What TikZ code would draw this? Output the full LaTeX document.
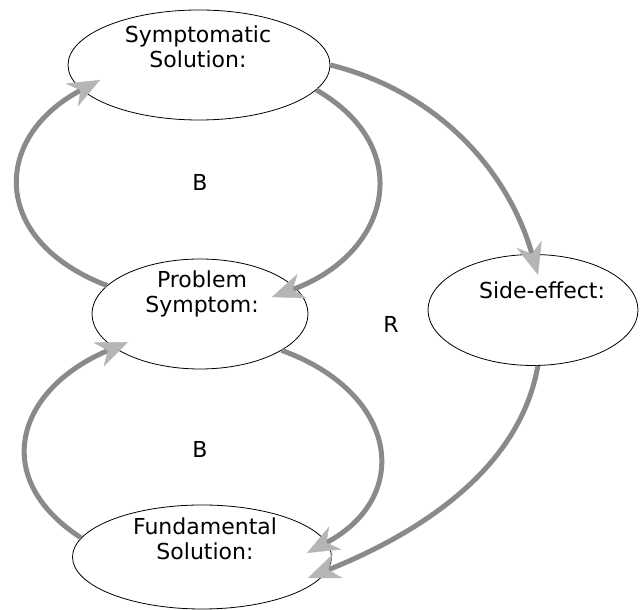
\documentclass[tikz,border=0pt]{standalone}
\usepackage{fontspec}
\setmainfont{DejaVu Sans}
\usetikzlibrary{shapes.geometric,arrows.meta}
\definecolor{flowgray}{HTML}{8A8A8A}
\definecolor{tipgray}{HTML}{B5B5B5}
\begin{document}
\begin{tikzpicture}[x=1pt,y=1pt,
    var/.style={ellipse,draw,line width=0.8pt,fill=white,inner sep=0pt},
    txt/.style={align=center,inner sep=0pt,font=\fontsize{22}{25}\selectfont},
    flow/.style={draw=flowgray,line width=5pt,-{Stealth[length=32pt,width=26pt,inset=10pt,line width=0.4pt,color=tipgray]}}]
    \useasboundingbox (0,0) rectangle (641,610);
    % the four variables
    \node[var,minimum width=262pt,minimum height=110pt] (sympsol) at (199,545) {};
    \node[var,minimum width=216pt,minimum height=110pt] (prob) at (200,296) {};
    \node[var,minimum width=210pt,minimum height=111pt] (side) at (533,300) {};
    \node[var,minimum width=259pt,minimum height=104pt] (fund) at (202,53) {};
    \node[txt] (sympsoltxt) at (198,563) {Symptomatic\\Solution:};
    \node[txt] (probtxt) at (202,316) {Problem\\Symptom:};
    \node[txt] (sidetxt) at (542,320) {Side-effect:};
    \node[txt] (fundtxt) at (205,71) {Fundamental\\Solution:};
    % loop labels
    \node[txt] (upperb) at (200,428) {B};
    \node[txt] (lowerb) at (200,161) {B};
    \node[txt] (outerr) at (391,286) {R};
    % links
    \draw[flow] (sympsol.-12) to[out=-30,in=20,out distance=117pt,in distance=125pt] ([shift={(72,17)}]prob.center);
    \draw[flow] (prob.163) to[out=159,in=208,out distance=125pt,in distance=123pt] ([shift={(-99,-15)}]sympsol.center);
    \draw[flow] (prob.-24) to[out=-20,in=28,out distance=124pt,in distance=120pt] ([shift={(105,4)}]fund.center);
    \draw[flow] (fund.171) to[out=147,in=203,out distance=110pt,in distance=121pt] ([shift={(-72,-28)}]prob.center);
    \draw[flow] (sympsol.east) to[out=-14,in=106,looseness=0.95] ([shift={(5,35)}]side.center);
    \draw[flow] (side.-85) to[out=-100,in=22,looseness=0.9] ([shift={(106,-21)}]fund.center);
\end{tikzpicture}
\end{document}
